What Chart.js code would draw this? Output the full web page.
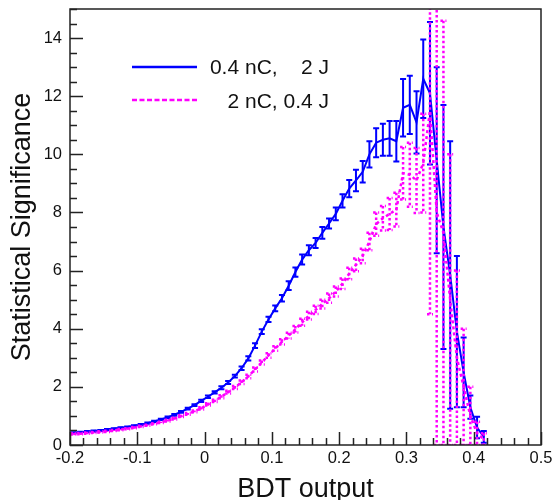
<!DOCTYPE html>
<html>
<head>
<meta charset="utf-8">
<title>Statistical Significance vs BDT output</title>
<script src="https://cdn.jsdelivr.net/npm/chart.js@4.4.0/dist/chart.umd.min.js"></script>
<style>
  html, body { margin: 0; padding: 0; background: #fff; }
  #wrap { width: 555px; height: 500px; }
</style>
</head>
<body>
<div id="wrap"><canvas id="sig"></canvas></div>
<script>
// bin centres of the BDT output histogram
const bdtBins = [-0.195,-0.185,-0.175,-0.165,-0.155,-0.145,-0.135,-0.125,-0.115,-0.105,
  -0.095,-0.085,-0.075,-0.065,-0.055,-0.045,-0.035,-0.025,-0.015,-0.005,
  0.005,0.015,0.025,0.035,0.045,0.055,0.065,0.075,0.085,0.095,
  0.105,0.115,0.125,0.135,0.145,0.155,0.165,0.175,0.185,0.195,
  0.205,0.215,0.225,0.235,0.245,0.255,0.265,0.275,0.285,0.295,
  0.305,0.315,0.325,0.335,0.345,0.355,0.365,0.375,0.385,0.395,
  0.405,0.415];

// 0.4 nC, 2 J
const blueSig = [0.42,0.44,0.46,0.48,0.50,0.53,0.56,0.59,0.62,0.66,
  0.70,0.75,0.81,0.88,0.95,1.04,1.14,1.25,1.37,1.52,
  1.66,1.81,1.97,2.15,2.37,2.64,2.98,3.42,3.90,4.32,
  4.70,5.05,5.48,5.95,6.38,6.70,6.95,7.30,7.62,7.95,
  8.40,8.82,9.10,9.40,10.00,10.40,10.50,10.55,10.45,11.60,
  11.70,11.10,12.60,12.10,9.80,7.50,5.85,3.90,2.50,1.30,
  0.60,0.28];
const blueErr = [0.02,0.02,0.02,0.02,0.02,0.02,0.02,0.02,0.02,0.02,
  0.02,0.02,0.02,0.02,0.03,0.03,0.03,0.03,0.03,0.04,
  0.04,0.04,0.05,0.05,0.05,0.06,0.07,0.08,0.08,0.09,
  0.10,0.11,0.15,0.16,0.17,0.17,0.17,0.20,0.17,0.22,
  0.23,0.30,0.37,0.37,0.45,0.50,0.55,0.60,0.70,0.99,
  1.00,1.07,1.35,2.45,3.20,4.20,4.60,2.60,1.20,0.40,
  0.37,0.20];

// 2 nC, 0.4 J
const magSig = [0.38,0.39,0.41,0.43,0.45,0.47,0.50,0.53,0.56,0.60,
  0.64,0.68,0.73,0.78,0.84,0.91,0.99,1.07,1.16,1.26,
  1.40,1.52,1.66,1.82,1.98,2.16,2.36,2.60,2.84,3.08,
  3.32,3.55,3.76,3.98,4.22,4.45,4.65,4.85,5.05,5.28,
  5.55,5.90,6.20,6.50,7.00,7.60,7.80,7.95,8.10,9.35,
  9.30,9.10,9.70,11.50,8.00,7.30,5.00,3.00,2.00,1.00,
  0.40,0.20];
const magErr = [0.02,0.02,0.02,0.02,0.02,0.02,0.02,0.02,0.02,0.02,
  0.02,0.02,0.02,0.02,0.03,0.03,0.03,0.03,0.03,0.04,
  0.04,0.04,0.05,0.05,0.05,0.06,0.06,0.07,0.07,0.08,
  0.08,0.09,0.10,0.11,0.12,0.13,0.14,0.15,0.16,0.17,
  0.18,0.20,0.22,0.25,0.30,0.40,0.42,0.55,0.58,0.90,
  1.10,1.12,1.70,7.00,8.00,7.30,5.00,3.00,2.00,1.00,
  0.40,0.20];

const xTickLabels = ['-0.2','-0.1','0','0.1','0.2','0.3','0.4','0.5'];
const yTickLabels = ['0','2','4','6','8','10','12','14'];
const legendLabels = ['0.4 nC,    2 J', '2 nC, 0.4 J'];

const FONT = "'Liberation Sans', Arial, Helvetica, sans-serif";

function toPoints(vals) {
  return bdtBins.map((x, i) => ({ x: x, y: vals[i] }));
}

// vertical error bars with small caps, drawn through the scales
const errorBars = {
  id: 'errorBars',
  afterDatasetDraw(chart, args) {
    const ds = chart.data.datasets[args.index];
    if (!ds.errors) return;
    const { ctx, chartArea: a } = chart;
    const xs = chart.scales.x, ys = chart.scales.y;
    ctx.save();
    ctx.beginPath();
    ctx.rect(a.left, a.top, a.right - a.left, a.bottom - a.top);
    ctx.clip();
    ctx.strokeStyle = ds.borderColor;
    ctx.lineWidth = ds.errWidth;
    ctx.setLineDash(ds.errDash);
    ds.data.forEach((p, i) => {
      const e = ds.errors[i];
      const px = xs.getPixelForValue(p.x);
      const t = ys.getPixelForValue(p.y + e);
      const b = ys.getPixelForValue(p.y - e);
      ctx.beginPath();
      ctx.moveTo(px, t); ctx.lineTo(px, b);
      ctx.moveTo(px - 3, t); ctx.lineTo(px + 3, t);
      ctx.moveTo(px - 3, b); ctx.lineTo(px + 3, b);
      ctx.stroke();
    });
    ctx.restore();
  }
};

// ROOT style frame with inward ticks, and the legend
const frame = {
  id: 'frame',
  afterDraw(chart) {
    const { ctx, chartArea: a } = chart;
    const xs = chart.scales.x, ys = chart.scales.y;
    ctx.save();
    ctx.strokeStyle = '#222';
    ctx.lineWidth = 1.5;
    ctx.strokeRect(a.left, a.top, a.right - a.left, a.bottom - a.top);

    ctx.beginPath();
    for (let k = 0; k <= 35; k++) {
      const v = -0.2 + k * 0.02;
      const px = Math.round(xs.getPixelForValue(v)) + 0.5;
      const len = (k % 5 === 0) ? 13 : 7;
      ctx.moveTo(px, a.bottom); ctx.lineTo(px, a.bottom - len);
    }
    for (let k = 0; k <= 30; k++) {
      const py = Math.round(ys.getPixelForValue(k * 0.5)) + 0.5;
      const len = (k % 4 === 0) ? 13 : 7;
      ctx.moveTo(a.left, py); ctx.lineTo(a.left + len, py);
    }
    ctx.stroke();

    // legend
    ctx.lineWidth = 2.5;
    ctx.strokeStyle = '#0000ff';
    ctx.beginPath(); ctx.moveTo(132, 67); ctx.lineTo(197, 67); ctx.stroke();
    ctx.strokeStyle = '#ff00ff';
    ctx.setLineDash([5, 2.5]);
    ctx.beginPath(); ctx.moveTo(132, 100); ctx.lineTo(197, 100); ctx.stroke();
    ctx.setLineDash([]);
    ctx.fillStyle = '#111';
    ctx.font = '21px ' + FONT;
    ctx.textAlign = 'right';
    ctx.textBaseline = 'middle';
    ctx.fillText(legendLabels[0], 329, 68);
    ctx.fillText(legendLabels[1], 329, 102);
    ctx.restore();
  }
};

new Chart(document.getElementById('sig'), {
  type: 'line',
  data: {
    datasets: [{
      label: legendLabels[0],
      data: toPoints(blueSig),
      errors: blueErr,
      borderColor: '#0000ff',
      borderWidth: 2,
      errWidth: 2,
      errDash: [],
      pointRadius: 0,
      tension: 0,
      fill: false,
      order: 2
    }, {
      label: legendLabels[1],
      data: toPoints(magSig),
      errors: magErr,
      borderColor: '#ff00ff',
      borderWidth: 2.5,
      borderDash: [3, 3],
      errWidth: 2.5,
      errDash: [2.5, 2.5],
      pointRadius: 0,
      tension: 0,
      fill: false,
      order: 1
    }]
  },
  options: {
    responsive: true,
    maintainAspectRatio: false,
    animation: false,
    events: [],
    layout: { padding: { top: 9, right: 14, left: 0, bottom: 0 } },
    plugins: {
      legend: { display: false },
      tooltip: { enabled: false }
    },
    scales: {
      x: {
        type: 'linear',
        min: -0.2,
        max: 0.5,
        grid: { display: false, drawTicks: false },
        border: { display: false },
        ticks: {
          stepSize: 0.1,
          autoSkip: false,
          maxRotation: 0,
          padding: 4,
          color: '#111',
          font: { family: FONT, size: 16.5 },
          callback: (v, i) => xTickLabels[i]
        },
        title: {
          display: true,
          text: 'BDT output',
          color: '#111',
          font: { family: FONT, size: 27, lineHeight: 0.8 },
          padding: 0
        },
        afterFit(s) {
          s.height = 55;
          s.paddingLeft = 0; s.paddingRight = 0;
        }
      },
      y: {
        min: 0,
        max: 15,
        grid: { display: false, drawTicks: false },
        border: { display: false },
        ticks: {
          stepSize: 2,
          includeBounds: false,
          padding: 8,
          color: '#111',
          font: { family: FONT, size: 16.5 },
          callback: (v, i) => yTickLabels[i]
        },
        title: {
          display: true,
          text: 'Statistical Significance',
          color: '#111',
          font: { family: FONT, size: 27, lineHeight: 1.2 },
          padding: { top: 6, bottom: 0 }
        },
        afterFit(s) {
          s.width = 70;
          s.paddingTop = 0; s.paddingBottom = 0;
        }
      }
    }
  },
  plugins: [errorBars, frame]
});
</script>
</body>
</html>
